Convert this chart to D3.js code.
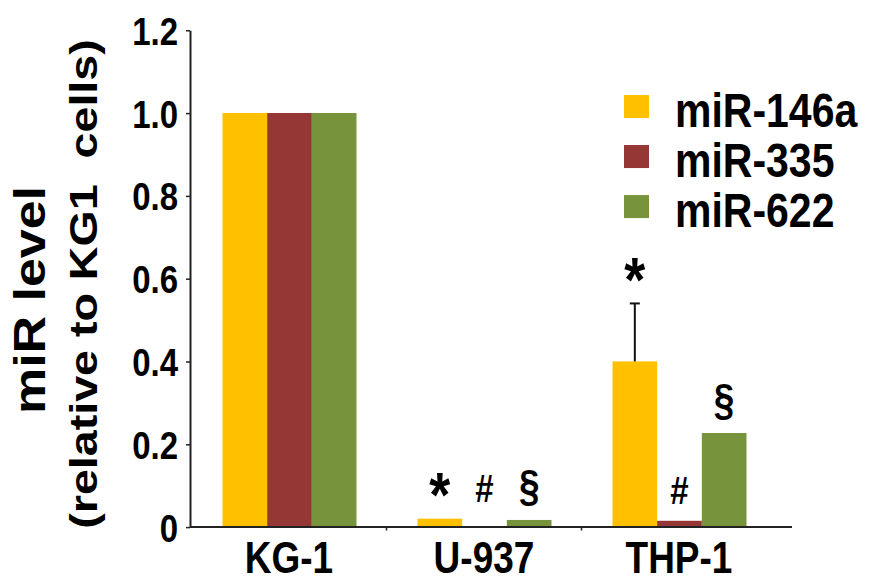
<!DOCTYPE html>
<html>
<head>
<meta charset="utf-8">
<script src="https://cdn.jsdelivr.net/npm/d3@7"></script>
<style>
  html, body { margin: 0; padding: 0; background: #fff; }
  svg { display: block; }
  text { font-family: "Liberation Sans", Arial, sans-serif; font-weight: bold; fill: #000; }
</style>
</head>
<body>
<svg id="chart" width="871" height="584"></svg>
<script>
// Cell lines and the three microRNAs measured in each
const categories = ["KG-1", "U-937", "THP-1"];
const seriesNames = ["miR-146a", "miR-335", "miR-622"];
const seriesColors = ["#FFC000", "#953735", "#77933C"];

// Expression relative to KG1 cells
const mir146a = [1.0, 0.02, 0.40];
const mir335  = [1.0, 0.0, 0.015];
const mir622  = [1.0, 0.017, 0.227];

// Standard error (only THP-1 miR-146a carries a visible bar)
const err146a = [0, 0, 0.14];
const err335  = [0, 0, 0];
const err622  = [0, 0, 0];

// Significance marks above each bar
const sig146a = ["", "*", "*"];
const sig335  = ["", "#", "#"];
const sig622  = ["", "§", "§"];

const yTicks = [0, 0.2, 0.4, 0.6, 0.8, 1.0, 1.2];

const values = [mir146a, mir335, mir622];
const errors = [err146a, err335, err622];
const marks  = [sig146a, sig335, sig622];

const rows = [];
categories.forEach((c, ci) => {
  seriesNames.forEach((s, si) => {
    rows.push({ cat: c, series: s, si, value: values[si][ci], err: errors[si][ci], mark: marks[si][ci] });
  });
});

// The whole figure is drawn a little taller than wide
const SY = 1.18;
const svg = d3.select("#chart");
const root = svg.append("g").attr("transform", `scale(1,${SY})`);

const y = d3.scaleLinear().domain([0, 1.2]).range([527 / SY, 30.2 / SY]);
const x0 = d3.scaleBand().domain(categories).range([191.5, 776.5]);
const x1 = d3.scaleBand().domain(seriesNames).range([31, 165]);
const color = d3.scaleOrdinal().domain(seriesNames).range(seriesColors);

const axisX = 190;

// Bars
root.append("g").selectAll("rect")
  .data(rows)
  .join("rect")
  .attr("x", d => x0(d.cat) + x1(d.series))
  .attr("width", x1.bandwidth())
  .attr("y", d => y(d.value))
  .attr("height", d => y(0) - y(d.value))
  .attr("fill", d => color(d.series));

// Error bars
const eb = root.append("g").attr("stroke", "#111").attr("stroke-width", 2);
rows.filter(d => d.err > 0).forEach(d => {
  const cx = x0(d.cat) + x1(d.series) + x1.bandwidth() / 2;
  eb.append("line").attr("x1", cx).attr("x2", cx)
    .attr("y1", y(d.value)).attr("y2", y(d.value + d.err))
    .attr("vector-effect", "non-scaling-stroke");
  eb.append("line").attr("x1", cx - 5).attr("x2", cx + 5)
    .attr("y1", y(d.value + d.err)).attr("y2", y(d.value + d.err))
    .attr("vector-effect", "non-scaling-stroke");
});

// Significance symbols
const glyph = {
  "*": { size: 54, lift: 2 },
  "#": { size: 33, lift: 14 },
  "§": { size: 37, lift: 15 }
};
root.append("g").selectAll("text")
  .data(rows.filter(d => d.mark))
  .join("text")
  .attr("x", d => x0(d.cat) + x1(d.series) + x1.bandwidth() / 2)
  .attr("y", d => {
    const base = d.cat === "U-937" ? y(0.02) : y(d.value + d.err);
    return base - glyph[d.mark].lift;
  })
  .attr("text-anchor", "middle")
  .style("font-size", d => glyph[d.mark].size + "px")
  .text(d => d.mark);

// Y axis
const yAxis = root.append("g")
  .attr("transform", `translate(${axisX},0)`)
  .call(d3.axisLeft(y).tickValues(yTicks).tickSize(4).tickSizeOuter(0).tickPadding(8)
    .tickFormat(d => d === 0 ? "0" : d3.format(".1f")(d)));
yAxis.select(".domain").attr("stroke", "#222").attr("stroke-width", 2)
  .attr("vector-effect", "non-scaling-stroke");
yAxis.selectAll(".tick line").attr("stroke", "#222").attr("stroke-width", 1.5)
  .attr("vector-effect", "non-scaling-stroke");
yAxis.selectAll(".tick text")
  .attr("fill", "#000")
  .style("font-size", "33px")
  .style("font-family", "'Liberation Sans', Arial, sans-serif")
  .style("font-weight", "bold")
  .attr("dy", "0.36em");

// X axis line with ticks between groups
const xAxis = root.append("g").attr("transform", `translate(0,${y(0)})`);
xAxis.append("line").attr("x1", axisX).attr("x2", 792).attr("y1", 0).attr("y2", 0)
  .attr("stroke", "#222").attr("stroke-width", 2).attr("vector-effect", "non-scaling-stroke");
xAxis.selectAll("line.sep")
  .data(categories.slice(1))
  .join("line")
  .attr("class", "sep")
  .attr("x1", d => x0(d)).attr("x2", d => x0(d))
  .attr("y1", 0).attr("y2", 3)
  .attr("stroke", "#222").attr("stroke-width", 1.5)
  .attr("vector-effect", "non-scaling-stroke");
xAxis.selectAll("text")
  .data(categories)
  .join("text")
  .attr("x", d => x0(d) + x0.bandwidth() / 2)
  .attr("y", 485.5 - y(0))
  .attr("text-anchor", "middle")
  .style("font-size", "37px")
  .text(d => d);

// Y axis title
root.append("text")
  .attr("transform", `translate(45,${300 / SY}) rotate(-90)`)
  .attr("text-anchor", "middle")
  .style("font-size", "44px")
  .text("miR level");
root.append("text")
  .attr("transform", `translate(97,${284 / SY}) rotate(-90)`)
  .attr("text-anchor", "middle")
  .style("font-size", "39.5px")
  .style("white-space", "pre")
  .text("(relative to KG1  cells)");

// Legend
const legend = root.append("g");
const lg = legend.selectAll("g")
  .data(seriesNames)
  .join("g")
  .attr("transform", (d, i) => `translate(624,${95 / SY + i * 42.4})`);
lg.append("rect").attr("width", 25).attr("height", 19.5).attr("fill", d => color(d));
lg.append("text").attr("x", 51).attr("y", 27).style("font-size", "41px").text(d => d);
</script>
</body>
</html>
